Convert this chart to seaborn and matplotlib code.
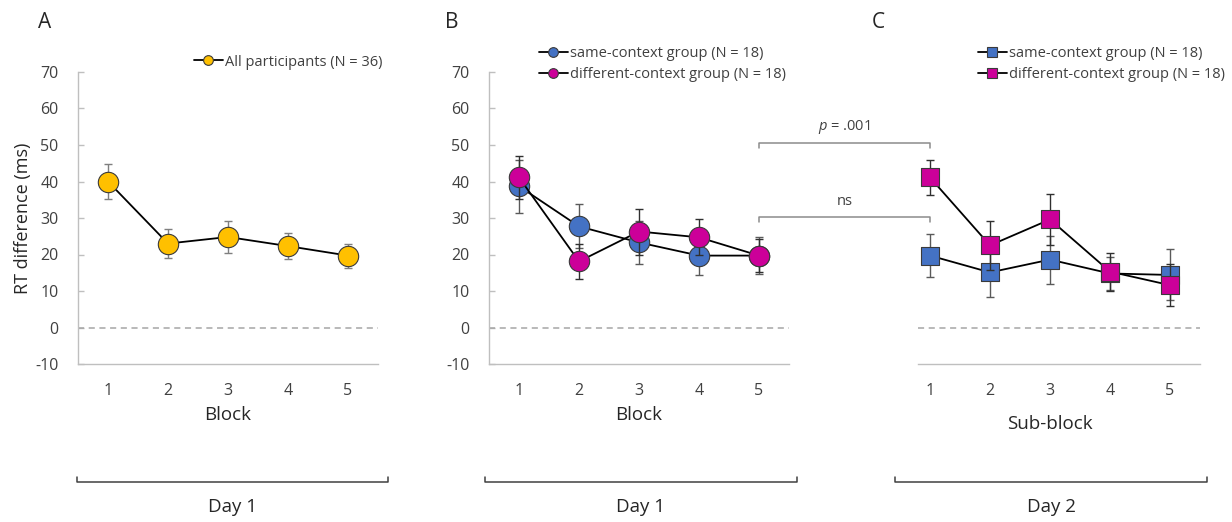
import numpy as np
import pandas as pd
import matplotlib
matplotlib.use("Agg")
import matplotlib.pyplot as plt
import seaborn as sns
from matplotlib.lines import Line2D

sns.set_style("white")
plt.rcParams['font.family'] = ['Open Sans', 'DejaVu Sans']
plt.rcParams['mathtext.fontset'] = 'custom'
plt.rcParams['mathtext.it'] = 'Open Sans:italic'
plt.rcParams['mathtext.rm'] = 'Open Sans'
plt.rcParams['axes.unicode_minus'] = False

# ---------------- data ----------------
blocks = [1, 2, 3, 4, 5]
tick_labels = ["1", "2", "3", "4", "5"]

all_mean = [40.0, 23.0, 24.8, 22.3, 19.7]
all_se = [4.7, 4.0, 4.4, 3.6, 3.3]

b_same_mean = [38.7, 27.7, 23.3, 19.7, 19.7]
b_same_se = [7.3, 6.0, 6.0, 5.2, 5.0]
b_diff_mean = [41.1, 18.1, 26.3, 24.7, 19.7]
b_diff_se = [5.8, 4.7, 6.3, 4.9, 4.6]

c_same_mean = [19.7, 15.1, 18.6, 14.8, 14.4]
c_same_se = [6.0, 6.8, 6.6, 4.5, 7.0]
c_diff_mean = [41.1, 22.5, 29.6, 15.3, 11.6]
c_diff_se = [4.7, 6.8, 7.1, 5.2, 5.8]

label_all = "All participants (N = 36)"
label_same = "same-context group (N = 18)"
label_diff = "different-context group (N = 18)"

c_orange = "#FFC000"
c_blue = "#4472C4"
c_mag = "#CC0099"
edge = "#3a3a3a"
spine_c = "#BFBFBF"
text_c = "#262626"

W, H = 1232, 522
fig = plt.figure(figsize=(W / 100, H / 100), dpi=100)

def fx(px):
    return px / W

def fy(py):
    return 1 - py / H

bottom = fy(364)
height = (364 - 72) / H
axA = fig.add_axes([fx(78), bottom, 300 / W, height])
axB = fig.add_axes([fx(489), bottom, 300 / W, height])
axC = fig.add_axes([fx(918), bottom, 282 / W, height])

def draw_series(ax, x, m, se, color, marker, size, ecol, z):
    ax.errorbar(x, m, yerr=se, fmt='none', ecolor=ecol, elinewidth=1.0,
                capsize=3, capthick=1.0, zorder=z)
    sns.lineplot(x=x, y=m, color='black', lw=1.3, ax=ax, zorder=z + 1,
                 legend=False)
    sns.scatterplot(x=x, y=m, color=color, marker=marker, s=size,
                    edgecolor=edge, linewidth=0.8, ax=ax, zorder=z + 2,
                    legend=False)

draw_series(axA, blocks, all_mean, all_se, c_orange, 'o', 215, '#7F7F7F', 2)
draw_series(axB, blocks, b_same_mean, b_same_se, c_blue, 'o', 215, '#5a5a5a', 2)
draw_series(axB, blocks, b_diff_mean, b_diff_se, c_mag, 'o', 215, '#303030', 5)
draw_series(axC, blocks, c_same_mean, c_same_se, c_blue, 's', 165, '#5a5a5a', 2)
draw_series(axC, blocks, c_diff_mean, c_diff_se, c_mag, 's', 165, '#303030', 5)

for ax, xl, left in [(axA, (0.5, 5.5), True), (axB, (0.5, 5.5), True),
                     (axC, (0.8, 5.5), False)]:
    ax.set_xlim(*xl)
    ax.set_ylim(-10, 70)
    ax.axhline(0, color='#A6A6A6', lw=1.1, ls=(0, (4, 3)), zorder=1)
    ax.set_xticks(blocks)
    ax.set_xticklabels(tick_labels)
    ax.set_xticks([1.5, 2.5, 3.5, 4.5, 5.5], minor=True)
    ax.tick_params(axis='x', which='major', length=0, pad=14,
                   labelsize=11.5, labelcolor='#404040')
    ax.tick_params(axis='x', which='minor', direction='in', length=4,
                   color=spine_c, width=1)
    ax.set_yticks(range(-10, 71, 10))
    for s in ['top', 'right']:
        ax.spines[s].set_visible(False)
    ax.spines['bottom'].set_color(spine_c)
    ax.spines['bottom'].set_linewidth(1)
    if left:
        ax.spines['left'].set_color(spine_c)
        ax.spines['left'].set_linewidth(1)
        ax.tick_params(axis='y', direction='in', length=4, color=spine_c,
                       width=1, labelsize=11.5, labelcolor='#404040', pad=14)
        ax.yaxis.set_tick_params(left=True)
    else:
        ax.spines['left'].set_visible(False)
        ax.set_yticklabels([])
        ax.tick_params(axis='y', length=0)
    ax.patch.set_alpha(0)

axA.set_xlabel("Block", fontsize=13.5, color=text_c, labelpad=5)
axB.set_xlabel("Block", fontsize=13.5, color=text_c, labelpad=5)
axC.set_xlabel("Sub-block", fontsize=13.5, color=text_c)
axC.xaxis.set_label_coords((1050 - 918) / 282, -0.175)
axB.set_ylabel("")
axC.set_ylabel("")
axA.set_ylabel("RT difference (ms)", fontsize=13, color=text_c, labelpad=2)

# legends
def handle(color, marker):
    return Line2D([0], [0], color='black', lw=1.3, marker=marker,
                  markerfacecolor=color, markeredgecolor=edge,
                  markeredgewidth=0.8, markersize=7)

leg_kw = dict(frameon=False, fontsize=10.5, handlelength=2.0,
              handletextpad=0.15, borderaxespad=0, labelspacing=0.45,
              labelcolor='#404040')
axA.legend([handle(c_orange, 'o')], [label_all], loc='center left',
           bbox_to_anchor=((188 - 78) / 300, (364 - 62) / 292), **leg_kw)
axB.legend([handle(c_blue, 'o'), handle(c_mag, 'o')], [label_same, label_diff],
           loc='center left', bbox_to_anchor=((533 - 489) / 300, (364 - 64) / 292),
           **leg_kw)
axC.legend([handle(c_blue, 's'), handle(c_mag, 's')], [label_same, label_diff],
           loc='center left', bbox_to_anchor=((972 - 918) / 282, (364 - 64) / 292),
           **leg_kw)

# panel letters
for lab, px in [("A", 45), ("B", 452), ("C", 878)]:
    fig.text(fx(px), fy(22), lab, fontsize=15, color=text_c,
             ha='center', va='center')

# significance brackets between panel B (block 5) and C (sub-block 1)
def data_to_fig(ax, x, y):
    disp = ax.transData.transform((x, y))
    return fig.transFigure.inverted().transform(disp)

fig.canvas.draw()
for yv, txt in [(50.5, r"$p$ = .001"), (30.2, "ns")]:
    x0, y0 = data_to_fig(axB, 5, yv)
    x1, _ = data_to_fig(axC, 1, yv)
    dy = 5 / H
    fig.add_artist(Line2D([x0, x0, x1, x1], [y0 - dy, y0, y0, y0 - dy],
                          color='#8C8C8C', lw=1.1))
    fig.text((x0 + x1) / 2, y0 + 16 / H, txt, fontsize=10.5, color='#404040',
             ha='center', va='center')

# day brackets
for (l, r), lab in [((77, 388), "Day 1"), ((485, 797), "Day 1"),
                    ((895, 1207), "Day 2")]:
    fig.add_artist(Line2D([fx(l), fx(l), fx(r), fx(r)],
                          [fy(477), fy(482), fy(482), fy(477)],
                          color='#404040', lw=1.1))
    fig.text(fx((l + r) / 2), fy(507), lab, fontsize=13.5, color=text_c,
             ha='center', va='center')

fig.savefig("out.png", dpi=100)
